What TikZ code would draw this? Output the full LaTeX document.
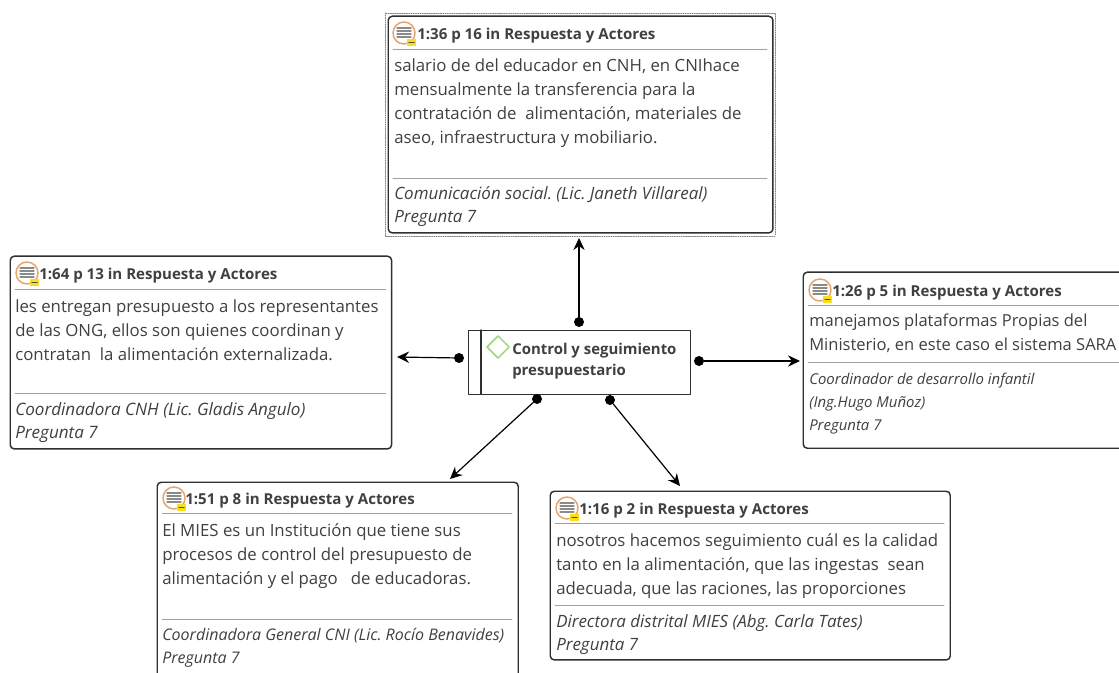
\documentclass[tikz,border=0pt]{standalone}
\usepackage{fontspec}
\setmainfont{Open Sans}
\usetikzlibrary{arrows.meta,shapes.geometric}
\definecolor{inktext}{HTML}{404040}
\definecolor{rulegray}{HTML}{A0A0A0}
\definecolor{cardedge}{HTML}{303030}
\definecolor{iconring}{HTML}{E8A36A}
\definecolor{iconline}{HTML}{8A8A8A}
\definecolor{iconbadge}{HTML}{F7E017}
\definecolor{markgreen}{HTML}{9CD67E}
\frenchspacing
\tikzset{
	card/.style={draw=cardedge,line width=1.1pt,rounded corners=3pt},
	cardhead/.style={anchor=west,inner sep=0pt,text=inktext,font=\fontsize{11.3}{13}\selectfont\bfseries},
	cardbody/.style={anchor=north west,inner sep=0pt,align=left,text=inktext,font=\fontsize{#1}{18}\selectfont},
	cardbody/.default=12.6,
	cardfoot/.style={anchor=north west,inner sep=0pt,align=left,text=inktext,font=\fontsize{#1}{17.25}\selectfont\itshape},
	cardrule/.style={draw=rulegray,line width=0.7pt},
	pin/.style={circle,fill=black,inner sep=0pt,minimum size=7.5pt},
	link/.style={-{Stealth[length=9pt,width=8.5pt]},line width=0.9pt,black}
}
\newcommand{\noteicon}[2]{
	\draw[iconring,line width=1.1pt,fill=white] (#1,#2) circle[radius=11];
	\foreach \k in {-5,-2,1,4}
		\draw[iconline,line width=1pt] (#1-7,#2+\k) -- (#1+7,#2+\k);
	\fill[iconbadge] (#1+3,#2+6) rectangle (#1+12,#2+13);
	\draw[black!70,line width=0.8pt] (#1+5,#2+9.5) -- (#1+10,#2+9.5);
}
\begin{document}
\begin{tikzpicture}[x=0.75pt,y=-0.75pt,line cap=round,line join=round]
	\clip (0,0) rectangle (1119,673);
	\fill[white] (0,0) rectangle (1119,673);

	% top
	\draw[densely dotted,gray,line width=0.7pt] (385,13) rectangle (775,236);
	\node[card,minimum width=288.5pt,minimum height=162.5pt,anchor=north west] (c36) at (387.5,15.5) {};
	\noteicon{404}{33}
	\node[cardhead] (h36) at (417,35.5) {1:36 p 16 in Respuesta y Actores};
	\draw[cardrule] (393,49) -- (767,49);
	\node[cardbody] (t36) at (394,58) {salario de del educador en CNH, en CNIhace\\mensualmente la transferencia para la\\contratación de\ \ alimentación, materiales de\\aseo, infraestructura y mobiliario.};
	\draw[cardrule] (393,178) -- (767,178);
	\node[cardfoot=12.7] (f36) at (394,186.5) {Comunicación social. (Lic. Janeth Villareal)\\Pregunta 7};

	% left
	\node[card,minimum width=286pt,minimum height=144.5pt,anchor=north west] (c64) at (9.5,255.5) {};
	\noteicon{27}{273}
	\node[cardhead] (h64) at (39,275.5) {1:64 p 13 in Respuesta y Actores};
	\draw[cardrule] (15,289) -- (386,289);
	\node[cardbody] (t64) at (15,299) {les entregan presupuesto a los representantes\\de las ONG, ellos son quienes coordinan y\\contratan\ \ la alimentación externalizada.};
	\draw[cardrule] (15,393) -- (386,393);
	\node[cardfoot=12.8] (f64) at (15,402.5) {Coordinadora CNH (Lic. Gladis Angulo)\\Pregunta 7};

	% right
	\node[card,minimum width=245pt,minimum height=132pt,anchor=north west] (c26) at (802.5,271.5) {};
	\noteicon{820}{290}
	\node[cardhead] (h26) at (832,292.5) {1:26 p 5 in Respuesta y Actores};
	\draw[cardrule] (808,305) -- (1125,305);
	\node[cardbody=12.4] (t26) at (809,314) {manejamos plataformas Propias del\\Ministerio, en este caso el sistema SARA};
	\draw[cardrule] (808,362) -- (1125,362);
	\node[cardfoot=11.2] (f26) at (809,373) {Coordinador de desarrollo infantil\\(Ing.Hugo Muñoz)\\Pregunta 7};

	% bottom left
	\node[card,minimum width=270.75pt,minimum height=156pt,anchor=north west] (c51) at (156.5,481.5) {};
	\noteicon{174}{498}
	\node[cardhead] (h51) at (185,500.5) {1:51 p 8 in Respuesta y Actores};
	\draw[cardrule] (162,513) -- (512,513);
	\node[cardbody] (t51) at (162,523) {El MIES es un Institución que tiene sus\\procesos de control del presupuesto de\\alimentación y el pago\ \ \ de educadoras.};
	\draw[cardrule] (162,619) -- (512,619);
	\node[cardfoot=12] (f51) at (162,628) {Coordinadora General CNI (Lic. Rocío Benavides)\\Pregunta 7};

	% bottom right
	\node[card,minimum width=300pt,minimum height=126.5pt,anchor=north west] (c16) at (549.5,490.5) {};
	\noteicon{567}{508}
	\node[cardhead] (h16) at (579,510.5) {1:16 p 2 in Respuesta y Actores};
	\draw[cardrule] (555,523) -- (944,523);
	\node[cardbody] (t16) at (556,533) {nosotros hacemos seguimiento cuál es la calidad\\tanto en la alimentación, que las ingestas\ \ sean\\adecuada, que las raciones, las proporciones};
	\draw[cardrule] (555,605) -- (944,605);
	\node[cardfoot=12.7] (f16) at (556,614.5) {Directora distrital MIES (Abg. Carla Tates)\\Pregunta 7};

	% centre
	\node[draw=cardedge,line width=1pt,minimum width=166.5pt,minimum height=48pt,anchor=north west] (ctrl) at (468,330) {};
	\draw[cardedge,line width=1pt] (481,330) -- (481,394);
	\node[diamond,draw=markgreen,line width=1.1pt,inner sep=0pt,minimum size=17pt] (mark) at (498,347) {};
	\node[anchor=north west,inner sep=0pt,align=left,text=inktext,font=\fontsize{11.2}{15.75}\selectfont\bfseries] (ctrltext) at (512,343) {Control y seguimiento\\presupuestario};

	% connectors
	\node[pin] (p36) at (579,322) {};
	\node[pin] (p64) at (459,358) {};
	\node[pin] (p26) at (699,361) {};
	\node[pin] (p51) at (537,399) {};
	\node[pin] (p16) at (610,400) {};
	\coordinate (a36) at (579,238);
	\coordinate (a64) at (397,357);
	\coordinate (a26) at (800,361);
	\coordinate (a51) at (450,479);
	\coordinate (a16) at (680,486);
	\begin{scope}[link]
		\draw (p36) -- (a36);
		\draw (p64) -- (a64);
		\draw (p26) -- (a26);
		\draw (p51) -- (a51);
		\draw (p16) -- (a16);
	\end{scope}
\end{tikzpicture}
\end{document}
